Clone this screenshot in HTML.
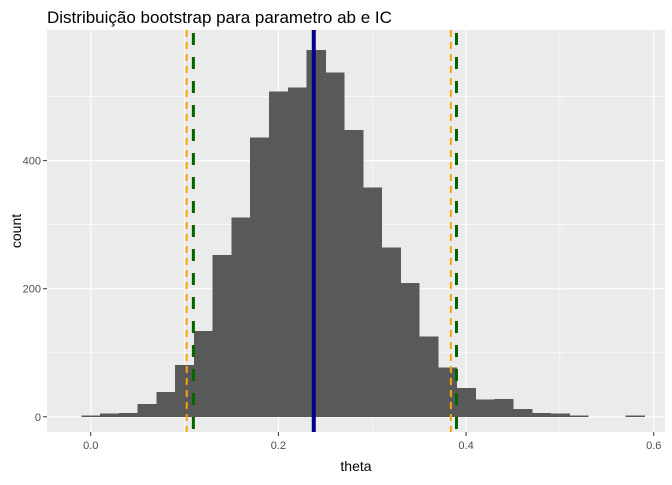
<!DOCTYPE html>
<html><head><meta charset="utf-8"><style>
html,body{margin:0;padding:0;background:#fff;}
text{font-family:"Liberation Sans",Arial,sans-serif;}
</style></head><body>
<svg id="chart" width="672" height="480" xmlns="http://www.w3.org/2000/svg">
<rect width="672" height="480" fill="#fff"/>
<text x="47" y="23" font-size="17" fill="#000">Distribuição bootstrap para parametro ab e IC</text>
<rect x="47" y="30" width="618" height="402" fill="#ebebeb"/>
<g id="grid"></g><g id="bars" shape-rendering="crispEdges"></g><g id="vlines"></g><g id="axes"></g>
<text x="356" y="471" font-size="14" text-anchor="middle" fill="#000">theta</text>
<text transform="translate(21,231) rotate(-90)" font-size="14" text-anchor="middle" fill="#000">count</text>
</svg>
<script>
const binCenters=[0,0.02,0.04,0.06,0.08,0.10,0.12,0.14,0.16,0.18,0.20,0.22,0.24,0.26,0.28,0.30,0.32,0.34,0.36,0.38,0.40,0.42,0.44,0.46,0.48,0.50,0.52,0.54,0.56,0.58];
const counts=[2,5,6,20,39,81,134,253,311,436,508,514,573,538,448,358,264,209,125,77,45,27,28,12,6,5,2,0,0,2];
const binWidth=0.02;
const xTicks=[0,0.2,0.4,0.6];
const xTickLabels=["0.0","0.2","0.4","0.6"];
const yTicks=[0,200,400];
const meanLine=0.2377;
const ciPercentile=[0.1023,0.3838];
const ciNormal=[0.1094,0.3898];
const NS="http://www.w3.org/2000/svg";
const X0=47,X1=665,Y0=30,Y1=432;
const xMin=-0.0466,xMax=0.612,yMin=-23.75,yMax=604;
const xs=v=>X0+(v-xMin)/(xMax-xMin)*(X1-X0);
const ys=v=>Y1-(v-yMin)/(yMax-yMin)*(Y1-Y0);
function mk(tag,attrs,parent){const e=document.createElementNS(NS,tag);for(const k in attrs)e.setAttribute(k,attrs[k]);document.getElementById(parent).appendChild(e);return e;}
const grid='grid';
[0.1,0.3,0.5].forEach(v=>{const l=mk('line',{x1:xs(v),x2:xs(v),y1:Y0,y2:Y1,stroke:'#fff','stroke-width':0.6},grid);

});
[100,300,500].forEach(v=>{const l=mk('line',{x1:X0,x2:X1,y1:ys(v),y2:ys(v),stroke:'#fff','stroke-width':0.6},grid);

});
xTicks.forEach((v,i)=>{const l=mk('line',{x1:xs(v),x2:xs(v),y1:Y0,y2:Y1,stroke:'#fff','stroke-width':1.2},grid);


const t=mk('line',{x1:xs(v),x2:xs(v),y1:Y1,y2:Y1+4,stroke:'#333','stroke-width':1},'axes');


const tx=mk('text',{x:xs(v),y:Y1+17,'font-size':11,'text-anchor':'middle',fill:'#4d4d4d'},'axes');
tx.textContent=xTickLabels[i];

});
yTicks.forEach(v=>{const l=mk('line',{x1:X0,x2:X1,y1:ys(v),y2:ys(v),stroke:'#fff','stroke-width':1.2},grid);


const t=mk('line',{x1:X0-4,x2:X0,y1:ys(v),y2:ys(v),stroke:'#333','stroke-width':1},'axes');


const tx=mk('text',{x:X0-6,y:ys(v)+4,'font-size':11,'text-anchor':'end',fill:'#4d4d4d'},'axes');
tx.textContent=String(v);

});
binCenters.forEach((c,i)=>{if(counts[i]<=0)return;
const xa=xs(c-binWidth/2),xb=xs(c+binWidth/2);
const r=mk('rect',{x:xa,y:ys(counts[i]),width:xb-xa+0.5,height:ys(0)-ys(counts[i]),fill:'#595959'},'bars');

});
ciPercentile.forEach(v=>{const l=mk('line',{x1:xs(v),x2:xs(v),y1:Y0,y2:Y1,stroke:'#ffa500','stroke-width':2,'stroke-dasharray':'7 5'},'vlines');

});
ciNormal.forEach(v=>{const l=mk('line',{x1:xs(v),x2:xs(v),y1:Y0+3,y2:Y1,stroke:'#006400','stroke-width':3,'stroke-dasharray':'12 12'},'vlines');

});
const m=mk('line',{x1:xs(meanLine),x2:xs(meanLine),y1:Y0,y2:Y1,stroke:'#00008b','stroke-width':4},'vlines');


</script>
</body></html>
